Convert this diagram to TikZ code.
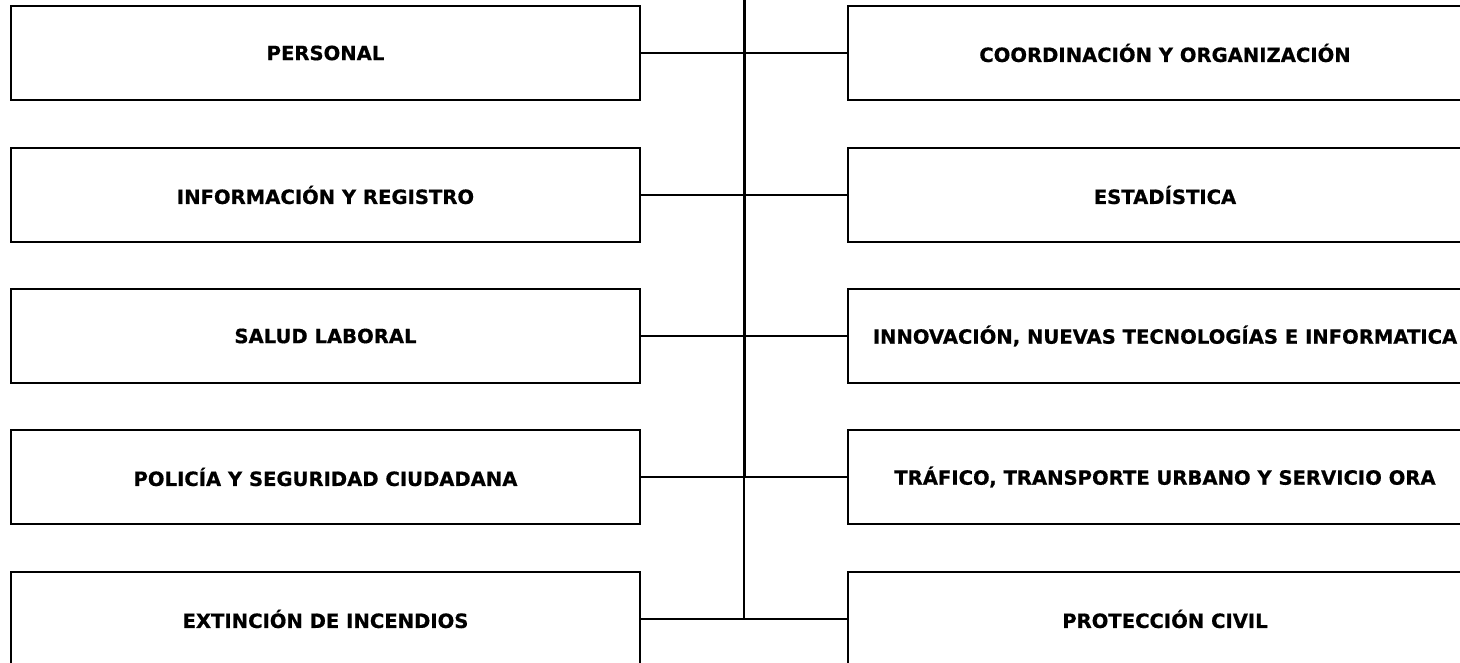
\documentclass[tikz,border=0pt]{standalone}
\usepackage{fontspec}
\setmainfont{DejaVu Sans}[BoldFeatures={FakeBold=0.6}]
\begin{document}
\begin{tikzpicture}[x=1pt,y=-1pt,
  unit/.style={draw=black, line width=2pt, fill=white, minimum height=94pt, inner sep=0pt,
    font=\fontsize{19.6}{23}\selectfont\bfseries, text=black},
  leftunit/.style={unit, minimum width=629pt},
  rightunit/.style={unit, minimum width=634pt},
  link/.style={draw=black, line width=2pt},
  trunk/.style={draw=black, line width=3pt}]
\useasboundingbox (0,0) rectangle (1460,663);
\node[leftunit] (L1) at (325.5,53) {PERSONAL};
\node[leftunit] (L2) at (325.5,195) {INFORMACIÓN Y REGISTRO};
\node[leftunit] (L3) at (325.5,336) {SALUD LABORAL};
\node[leftunit] (L4) at (325.5,477) {POLICÍA Y SEGURIDAD CIUDADANA};
\node[leftunit] (L5) at (325.5,619) {EXTINCIÓN DE INCENDIOS};
\node[rightunit] (R1) at (1165,53) {COORDINACIÓN Y ORGANIZACIÓN};
\node[rightunit] (R2) at (1165,195) {ESTADÍSTICA};
\node[rightunit] (R3) at (1165,336) {INNOVACIÓN, NUEVAS TECNOLOGÍAS E INFORMATICA};
\node[rightunit] (R4) at (1165,477) {TRÁFICO, TRANSPORTE URBANO Y SERVICIO ORA};
\node[rightunit] (R5) at (1165,619) {PROTECCIÓN CIVIL};
\coordinate (top) at (744,-2);
\coordinate (mid) at (744,477);
\coordinate (bot) at (744,619);
\foreach \i in {1,...,5} { \draw[link] (L\i.east) -- (R\i.west); }
\draw[trunk] (top) -- (mid);
\draw[link] (mid) -- (bot);
\end{tikzpicture}
\end{document}
